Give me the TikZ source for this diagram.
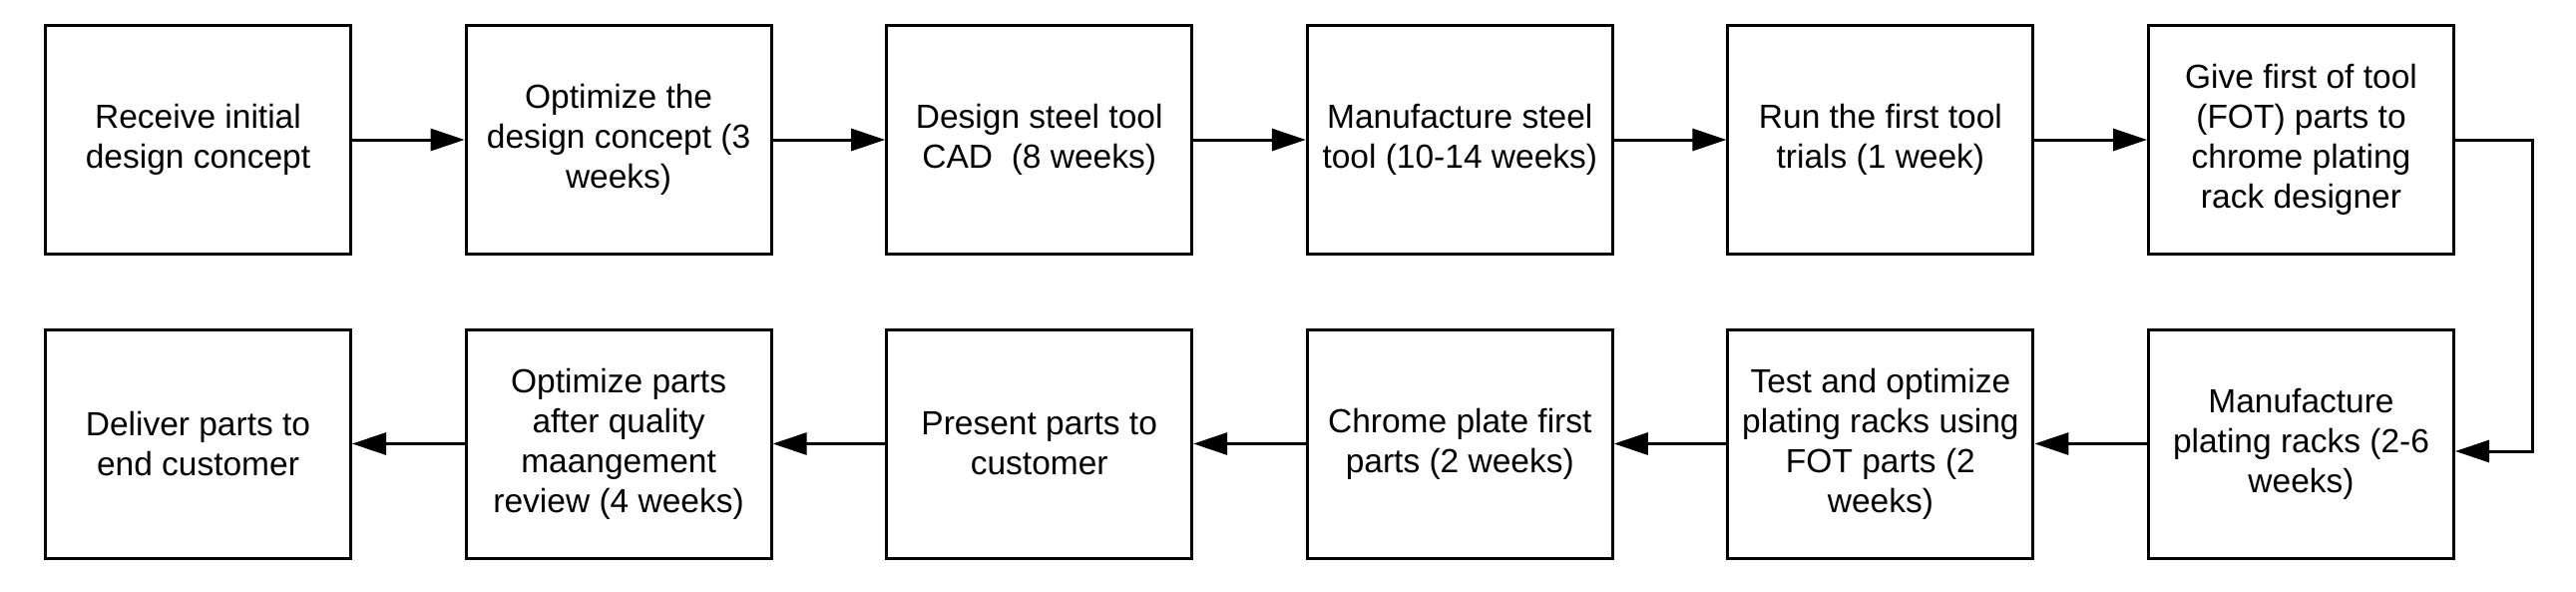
\documentclass[tikz,border=0pt]{standalone}
\usepackage{fontspec}
\setmainfont{Liberation Sans}
\usetikzlibrary{arrows.meta,calc}
\begin{document}
\begin{tikzpicture}[x=1pt,y=1pt,
  stepbox/.style={draw=black, line width=3pt, minimum width=306pt, minimum height=229pt,
    inner sep=0pt, align=center, font=\fontsize{33.5}{40}\selectfont, fill=white},
  arr/.style={line width=3pt, -{Triangle[length=34pt,width=22pt]}}]
\useasboundingbox[fill=white] (0,0) rectangle (2582,-592);
% top row
\node[stepbox] (b1) at (198.5,-140) {Receive initial\\design concept};
\node[stepbox] (b2) at (620.1,-140) {Optimize the\\design concept (3\\weeks)};
\node[stepbox] (b3) at (1041.7,-140) {Design steel tool\\CAD\ \ (8 weeks)};
\node[stepbox] (b4) at (1463.3,-140) {Manufacture steel\\tool (10-14 weeks)};
\node[stepbox] (b5) at (1884.9,-140) {Run the first tool\\trials (1 week)};
\node[stepbox] (b6) at (2306.5,-140) {Give first of tool\\(FOT) parts to\\chrome plating\\rack designer};
% bottom row
\node[stepbox] (b7) at (2306.5,-444.5) {Manufacture\\plating racks (2-6\\weeks)};
\node[stepbox] (b8) at (1884.9,-444.5) {Test and optimize\\plating racks using\\FOT parts (2\\weeks)};
\node[stepbox] (b9) at (1463.3,-444.5) {Chrome plate first\\parts (2 weeks)};
\node[stepbox] (b10) at (1041.7,-444.5) {Present parts to\\customer};
\node[stepbox] (b11) at (620.1,-444.5) {Optimize parts\\after quality\\maangement\\review (4 weeks)};
\node[stepbox] (b12) at (198.5,-444.5) {Deliver parts to\\end customer};
% connectors
\draw[arr] (b1.east) -- (b2.west);
\draw[arr] (b2.east) -- (b3.west);
\draw[arr] (b3.east) -- (b4.west);
\draw[arr] (b4.east) -- (b5.west);
\draw[arr] (b5.east) -- (b6.west);
\draw[arr] (b6.east) -- ++(77,0) |- ([yshift=-7.5pt]b7.east);
\draw[arr] (b7.west) -- (b8.east);
\draw[arr] (b8.west) -- (b9.east);
\draw[arr] (b9.west) -- (b10.east);
\draw[arr] (b10.west) -- (b11.east);
\draw[arr] (b11.west) -- (b12.east);
\end{tikzpicture}
\end{document}
